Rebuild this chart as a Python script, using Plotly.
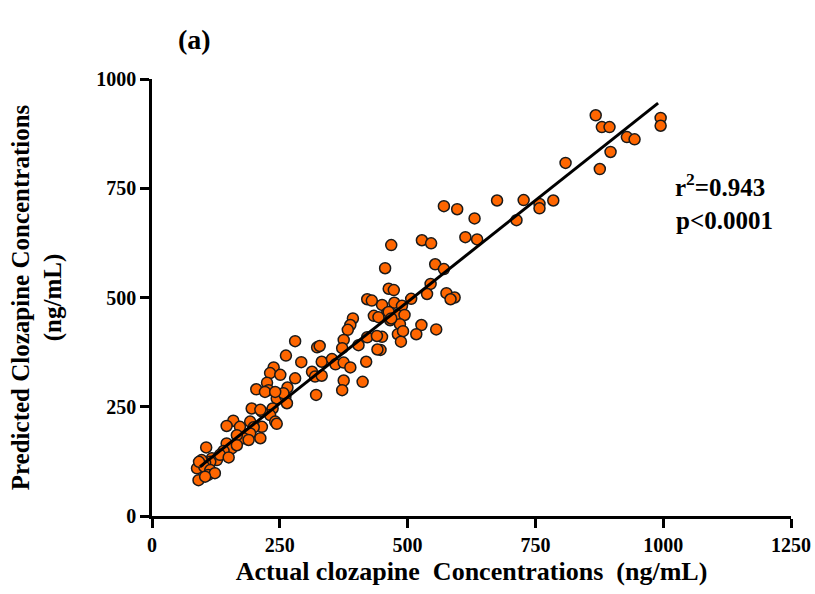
import plotly.graph_objects as go

actual = [868, 880, 895, 929, 944, 897, 876, 809, 995, 995,
          571, 597, 675, 727, 758, 758, 785, 713, 631,
          468, 528, 546, 613, 636,
          456, 554, 571,
          463, 473, 545, 538, 576, 592, 584, 507,
          450, 474, 489, 460, 479, 494, 466, 485, 527, 556, 517, 481, 491, 487, 450, 447,
          421, 430, 434, 443, 463, 468, 393, 388, 383, 375, 372, 404, 421, 440, 441,
          280, 323, 328, 262, 292, 332, 352, 359, 375, 388, 419,
          238, 231, 251, 280, 313, 319, 332, 375, 412, 372, 321,
          225, 228, 204, 221, 265, 244, 261, 264, 257, 241,
          236, 231, 215, 241, 244, 195, 212,
          159, 146, 192, 172, 215,
          199, 192, 179, 189, 166, 212,
          146, 156, 166, 140, 106,
          117, 127, 133, 150, 114, 104, 97,
          88, 102, 114, 110, 123, 91, 104, 92]
predicted = [917, 890, 890, 867, 862, 833, 794, 808, 911, 893,
             709, 702, 722, 723, 714, 704, 722, 677, 681,
             620, 631, 624, 638, 633,
             567, 576, 565,
             520, 517, 531, 508, 510, 500, 496, 497,
             483, 488, 481, 464, 460, 460, 448, 439, 437, 427, 416, 416, 423, 399, 410, 380,
             496, 493, 458, 455, 467, 452, 452, 437, 426, 403, 384, 391, 409, 412, 381,
             400, 386, 389, 367, 352, 353, 359, 347, 351, 340, 353,
             340, 327, 323, 315, 330, 319, 321, 310, 307, 288, 277,
             305, 288, 290, 284, 294, 269, 273, 258, 281, 284,
             246, 231, 239, 216, 211, 246, 243,
             218, 206, 216, 204, 204,
             203, 189, 178, 174, 185, 178,
             166, 155, 162, 149, 157,
             132, 128, 140, 134, 124, 121, 128,
             109, 113, 105, 94, 98, 82, 90, 124]

fit_slope = 0.9285
fit_intercept = 25.7
fit_x_range = [94, 990]

x_ticks = [0, 250, 500, 750, 1000, 1250]
y_ticks = [0, 250, 500, 750, 1000]

serif = "Liberation Serif, Times New Roman, serif"

fig = go.Figure()
fig.add_trace(go.Scatter(
    x=actual, y=predicted, mode="markers",
    marker=dict(size=11, color="#FF6600", line=dict(color="#1a1a1a", width=1.5)),
    showlegend=False, cliponaxis=False))
fig.add_trace(go.Scatter(
    x=fit_x_range, y=[fit_intercept + fit_slope * v for v in fit_x_range],
    mode="lines", line=dict(color="black", width=3), showlegend=False))

axis_common = dict(showline=True, linecolor="black", linewidth=2.5, ticks="outside",
                   ticklen=9, tickwidth=2.5, tickcolor="black", showgrid=False,
                   zeroline=False, automargin=False,
                   tickfont=dict(family=serif, size=20, color="black"))

fig.update_layout(
    width=815, height=594, plot_bgcolor="white", paper_bgcolor="white",
    margin=dict(l=152, r=24, t=79, b=78),
    xaxis=dict(range=[0, 1250], tickvals=x_ticks, ticktext=[f"<b>{v}</b>" for v in x_ticks],
               title=dict(text="<b>Actual clozapine  Concentrations  (ng/mL)</b>",
                          font=dict(family=serif, size=26, color="black"), standoff=8),
               **axis_common),
    yaxis=dict(range=[0, 1000], tickvals=y_ticks, ticktext=[f"<b>{v}</b>" for v in y_ticks],
               title=dict(text="<b>Predicted Clozapine Concentrations<br>(ng/mL)</b>",
                          font=dict(family=serif, size=25, color="black"), standoff=28),
               **axis_common),
)

pw, ph = 815 - 152 - 24, 594 - 79 - 78
fig.add_annotation(text="<b>(a)</b>", xref="paper", yref="paper",
                   x=(176 - 152) / pw, y=(516 - 22) / ph, showarrow=False,
                   font=dict(family=serif, size=28, color="black"))
fig.add_annotation(text="<b>r<sup>2</sup>=0.943</b>", xref="x", yref="y", x=1112, y=757,
                   showarrow=False, font=dict(family=serif, size=25, color="black"))
fig.add_annotation(text="<b>p<0.0001</b>", xref="x", yref="y", x=1120, y=677,
                   showarrow=False, font=dict(family=serif, size=25, color="black"))

fig.write_html("out.html")
